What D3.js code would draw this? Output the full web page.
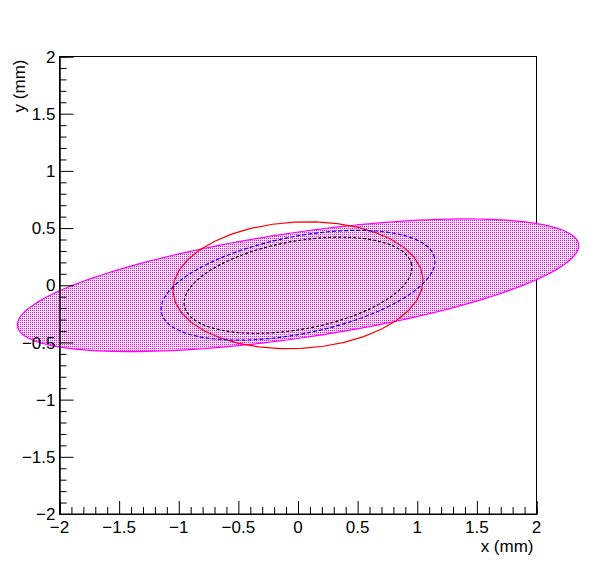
<!DOCTYPE html>
<html>
<head>
<meta charset="utf-8">
<script src="https://cdn.jsdelivr.net/npm/d3@7"></script>
<style>
  body { margin: 0; background: #fff; }
  svg text { font-family: "Liberation Sans", Arial, Helvetica, sans-serif; }
</style>
</head>
<body>
<div id="chart"></div>
<script>
// axis ranges and ticks
const xDomain = [-2, 2];
const yDomain = [-2, 2];
const xMajor = [-2, -1.5, -1, -0.5, 0, 0.5, 1, 1.5, 2];
const yMajor = [-2, -1.5, -1, -0.5, 0, 0.5, 1, 1.5, 2];
const xTitle = "x (mm)";
const yTitle = "y (mm)";

// ellipses (data units): name, centre, semi axes, tilt in degrees
const ellipseNames = ["band", "red", "blue", "black"];
const centerX = [0, 0, 0, 0];
const centerY = [0, 0, 0, 0];
const semiA = [2.38, 1.05, 1.17, 0.97];
const semiB = [0.46, 0.553, 0.424, 0.385];
const tiltDeg = [8.7, 3.2, 11.9, 10.9];

const width = 596, height = 572;
const margins = { left: 59.5, right: 59.5, top: 56.5, bottom: 58 };
const fontSize = "17px";

const svg = d3.select("#chart").append("svg")
    .attr("width", width)
    .attr("height", height);

svg.append("rect").attr("width", width).attr("height", height).attr("fill", "#fff");

const x = d3.scaleLinear().domain(xDomain).range([margins.left, width - margins.right]);
const y = d3.scaleLinear().domain(yDomain).range([height - margins.bottom, margins.top]);

const fmt = d => (d < 0 ? "\u2212" : "") + d3.format("")(Math.abs(d));

// dotted fill pattern like ROOT style 3001
const defs = svg.append("defs");
const pat = defs.append("pattern")
    .attr("id", "dots")
    .attr("patternUnits", "userSpaceOnUse")
    .attr("width", 2).attr("height", 2);
pat.append("rect").attr("x", 0).attr("y", 0).attr("width", 2).attr("height", 2).attr("fill", "#fbe6fb");
pat.append("rect").attr("x", 0).attr("y", 0).attr("width", 1).attr("height", 1)
    .attr("fill", "#ff00ff").attr("shape-rendering", "crispEdges");

/**
 * build the outline of one ellipse as a list of points in data units
 */
function ellipsePoints(i, n) {
    const th = tiltDeg[i] * Math.PI / 180;
    return d3.range(n + 1).map(k => {
        const t = 2 * Math.PI * k / n;
        const u = semiA[i] * Math.cos(t), v = semiB[i] * Math.sin(t);
        return [centerX[i] + u * Math.cos(th) - v * Math.sin(th),
                centerY[i] + u * Math.sin(th) + v * Math.cos(th)];
    });
}

const line = d3.line().x(d => x(d[0])).y(d => y(d[1]));

// frame
svg.append("rect")
    .attr("x", x(xDomain[0])).attr("y", y(yDomain[1]))
    .attr("width", x(xDomain[1]) - x(xDomain[0]))
    .attr("height", y(yDomain[0]) - y(yDomain[1]))
    .attr("fill", "none").attr("stroke", "#000").attr("stroke-width", 1);

// filled band first
svg.append("path")
    .attr("d", line(ellipsePoints(0, 200)))
    .attr("fill", "url(#dots)")
    .attr("stroke", "#ff00ff")
    .attr("stroke-width", 1.2);

// outlines
const styles = {
    red: { stroke: "#ff0000", dash: null, n: 36 },
    blue: { stroke: "#0000ff", dash: "4,2", n: 120 },
    black: { stroke: "#000000", dash: "3,2", n: 120 }
};
[1, 2, 3].forEach(i => {
    const s = styles[ellipseNames[i]];
    svg.append("path")
        .attr("d", line(ellipsePoints(i, s.n)))
        .attr("fill", "none")
        .attr("stroke", s.stroke)
        .attr("stroke-width", 1.2)
        .attr("stroke-dasharray", s.dash);
});

// x axis (ticks inside, pointing up)
const xMinor = d3.range(-20, 21).map(d => d / 10).filter(d => !xMajor.some(m => Math.abs(m - d) < 1e-9));
const xAxisG = svg.append("g").attr("transform", `translate(0,${y(yDomain[0])})`);
xAxisG.call(d3.axisBottom(x).tickValues(xMajor).tickSize(-13).tickFormat(""));
xAxisG.append("g").call(d3.axisBottom(x).tickValues(xMinor).tickSize(-7).tickFormat(""));
xAxisG.selectAll("line").attr("stroke", "#000");
xAxisG.selectAll(".mlab").data(xMajor).enter().append("text")
    .attr("class", "mlab")
    .attr("x", d => x(d)).attr("y", 19)
    .attr("text-anchor", "middle")
    .attr("font-size", fontSize)
    .attr("fill", "#000")
    .text(fmt);

// y axis (ticks inside, pointing right)
const yMinor = d3.range(-20, 21).map(d => d / 10).filter(d => !yMajor.some(m => Math.abs(m - d) < 1e-9));
const yAxisG = svg.append("g").attr("transform", `translate(${x(xDomain[0])},0)`);
yAxisG.call(d3.axisLeft(y).tickValues(yMajor).tickSize(-14).tickFormat(""));
yAxisG.append("g").call(d3.axisLeft(y).tickValues(yMinor).tickSize(-7).tickFormat(""));
yAxisG.selectAll("line").attr("stroke", "#000");
yAxisG.selectAll(".mlab").data(yMajor).enter().append("text")
    .attr("class", "mlab")
    .attr("x", -4).attr("y", d => y(d))
    .attr("dy", "0.36em")
    .attr("text-anchor", "end")
    .attr("font-size", fontSize)
    .attr("fill", "#000")
    .text(fmt);

// axis titles
svg.append("text")
    .attr("x", x(xDomain[1]) - 3).attr("y", 552)
    .attr("text-anchor", "end")
    .attr("font-size", fontSize)
    .text(xTitle);
svg.append("text")
    .attr("transform", `translate(25,${y(yDomain[1]) + 3}) rotate(-90)`)
    .attr("text-anchor", "end")
    .attr("font-size", fontSize)
    .text(yTitle);
</script>
</body>
</html>
